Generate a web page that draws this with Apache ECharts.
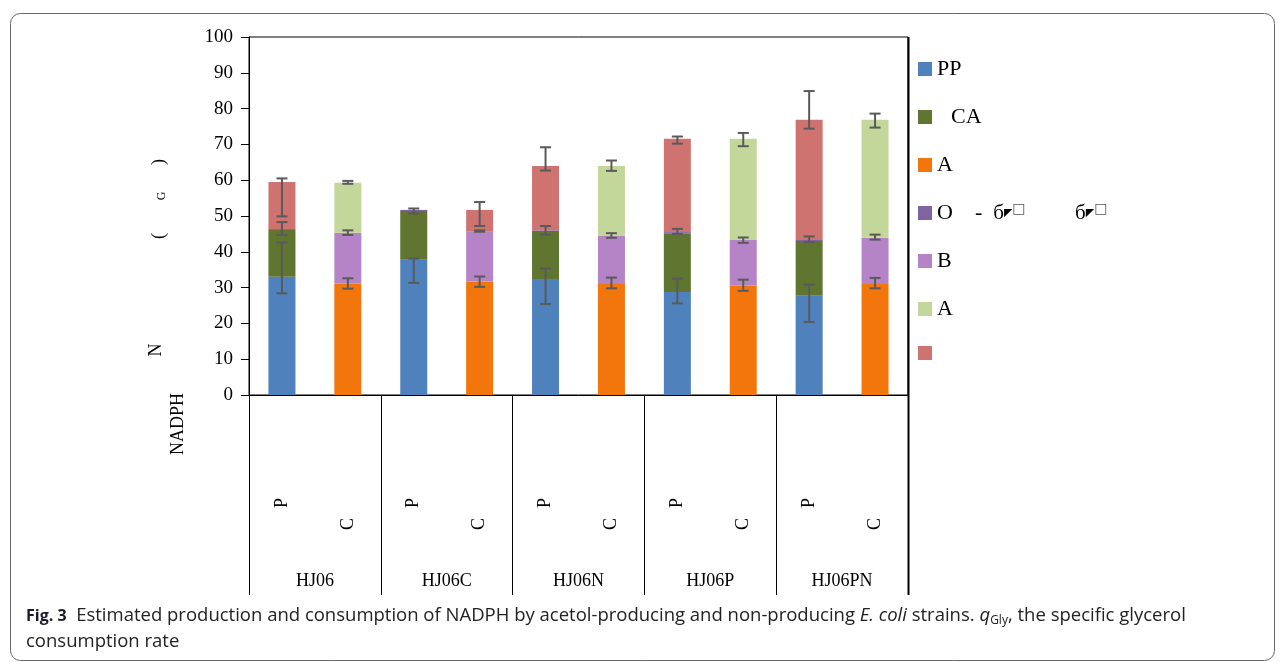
<!DOCTYPE html>
<html>
<head>
<meta charset="utf-8">
<script src="https://cdn.jsdelivr.net/npm/echarts@6/dist/echarts.min.js"></script>
<style>
  html, body { margin: 0; padding: 0; background: #fff; }
  #chart { width: 1282px; height: 662px; }
</style>
</head>
<body>
<div id="chart"></div>
<script>
// Strains and the two bars drawn for each (P = production, C = consumption)
const strains = ['HJ06', 'HJ06C', 'HJ06N', 'HJ06P', 'HJ06PN'];
const barLabels = ['P', 'C', 'P', 'C', 'P', 'C', 'P', 'C', 'P', 'C'];

// Stacked NADPH fluxes, one entry per bar (null = segment absent)
const ppVals  = [33.0, null, 37.8, null, 32.4, null, 28.8, null, 27.7, null];
const caVals  = [13.1, null, 13.6, null, 13.4, null, 16.4, null, 15.3, null];
const aVals   = [null, 31.1, null, 31.7, null, 31.0, null, 30.5, null, 31.0];
const oVals   = [0.3, null, 0.3, null, 0.2, null, 0.3, null, 0.3, null];
const bVals   = [null, 14.2, null, 13.9, null, 13.4, null, 12.8, null, 12.9];
const a2Vals  = [null, 14.0, null, null, null, 19.6, null, 28.3, null, 33.0];
const redVals = [13.1, null, null, 6.1, 18.0, null, 26.1, null, 33.6, null];

// Error bar ranges [low, high] at each stacked level
const errBase = [[28.4, 42.6], [29.7, 32.6], [31.3, 38.1], [30.2, 33.1], [25.4, 35.3],
                 [29.8, 32.8], [25.6, 32.5], [29.1, 32.2], [20.4, 30.8], [29.8, 32.7]];
const errMid  = [[44.7, 48.3], [44.7, 46.0], [50.7, 52.1], [45.6, 46.0], [44.8, 47.2],
                 [43.9, 45.2], [45.0, 46.4], [42.5, 44.0], [42.7, 44.3], [43.4, 44.8]];
const errTop  = [[49.9, 60.5], [59.0, 59.8], null, [47.2, 53.9], [62.7, 69.2],
                 [62.6, 65.5], [70.2, 72.2], [69.5, 73.2], [74.4, 84.9], [74.7, 78.6]];

// Y-axis ticks
const yMin = 0, yMax = 100, yStep = 10;

const serif = 'Liberation Serif';

const seriesDefs = [
  { key: 'pp', label: 'PP',  color: '#4F81BD', data: ppVals },
  { key: 'ca', label: '{ind|CA}', color: '#5F7530', data: caVals },
  { key: 'a1', label: 'A',   color: '#F2760C', data: aVals },
  { key: 'o',  label: '{t|O    -  }{cy|б}{wd|◤}{sq|□}{t|         }{cy|б}{wd|◤}{sq|□}', color: '#8064A2', data: oVals },
  { key: 'b',  label: 'B',   color: '#B484C6', data: bVals },
  { key: 'a2', label: 'A',   color: '#C4D79B', data: a2Vals },
  { key: 'r',  label: '',    color: '#CF7371', data: redVals }
];
const labelByKey = {};
seriesDefs.forEach(d => { labelByKey[d.key] = d.label; });

const errData = [];
[errBase, errMid, errTop].forEach(level => {
  level.forEach((r, i) => { if (r) errData.push([i, r[0], r[1]]); });
});

const chart = echarts.init(document.getElementById('chart'), null, { renderer: 'canvas' });

const series = seriesDefs.map(d => ({
  name: d.key,
  type: 'bar',
  stack: 'nadph',
  barWidth: 27,
  xAxisIndex: 0,
  itemStyle: { color: d.color },
  data: d.data
}));

series.push({
  type: 'custom',
  name: 'err',
  xAxisIndex: 0,
  z: 5,
  encode: { x: 0, y: [1, 2] },
  data: errData,
  renderItem: function (params, api) {
    const lo = api.coord([api.value(0), api.value(1)]);
    const hi = api.coord([api.value(0), api.value(2)]);
    const x = lo[0], cap = 5.5;
    const st = { stroke: '#5a5a5a', lineWidth: 2 };
    return {
      type: 'group',
      children: [
        { type: 'line', shape: { x1: x, y1: lo[1], x2: x, y2: hi[1] }, style: st },
        { type: 'line', shape: { x1: x - cap, y1: lo[1], x2: x + cap, y2: lo[1] }, style: st },
        { type: 'line', shape: { x1: x - cap, y1: hi[1], x2: x + cap, y2: hi[1] }, style: st }
      ]
    };
  }
});

const option = {
  animation: false,
  backgroundColor: '#fff',
  grid: { left: 249, right: 374, top: 37, bottom: 267, show: true, borderColor: '#000', borderWidth: 1 },
  legend: {
    data: seriesDefs.map(d => d.key),
    orient: 'vertical',
    left: 918,
    top: 58,
    padding: 0,
    itemWidth: 14,
    itemHeight: 14,
    itemGap: 26,
    icon: 'rect',
    formatter: name => labelByKey[name],
    textStyle: {
      fontFamily: serif, fontSize: 22, lineHeight: 22, color: '#000',
      rich: {
        ind: { fontFamily: serif, fontSize: 22, lineHeight: 22, color: '#000', padding: [0, 0, 0, 14] },
        t:   { fontFamily: serif, fontSize: 22, lineHeight: 22, color: '#000' },
        cy:  { fontFamily: serif, fontSize: 21, lineHeight: 22, color: '#000', verticalAlign: 'bottom' },
        wd:  { fontFamily: 'DejaVu Sans', fontSize: 11, lineHeight: 14, color: '#000', verticalAlign: 'middle' },
        sq:  { fontFamily: 'DejaVu Sans', fontSize: 14, lineHeight: 14, color: '#555', verticalAlign: 'top' }
      }
    }
  },
  xAxis: [
    {
      type: 'category', data: barLabels, gridIndex: 0, position: 'bottom',
      axisLine: { lineStyle: { color: '#000', width: 1 } },
      axisTick: { show: false },
      axisLabel: { interval: (i) => i % 2 === 0, rotate: 90, margin: 103,
                   fontFamily: serif, fontSize: 18, color: '#000' }
    },
    {
      type: 'category', data: barLabels, gridIndex: 0, position: 'bottom',
      axisLine: { show: false }, axisTick: { show: false },
      axisLabel: { interval: (i) => i % 2 === 1, rotate: 90, margin: 123,
                   fontFamily: serif, fontSize: 18, color: '#000' }
    },
    {
      type: 'category', data: strains, gridIndex: 0, position: 'bottom',
      axisLine: { show: false },
      axisTick: { show: true, length: 200, interval: 0, lineStyle: { color: '#000', width: 1 } },
      axisLabel: { margin: 177, fontFamily: serif, fontSize: 18, color: '#000' }
    }
  ],
  yAxis: {
    type: 'value', min: yMin, max: yMax, interval: yStep,
    splitLine: { show: false },
    axisLine: { show: true, lineStyle: { color: '#000', width: 1 } },
    axisTick: { show: true, length: 8, lineStyle: { color: '#000' } },
    axisLabel: { margin: 16, fontFamily: serif, fontSize: 19, color: '#000' }
  },
  graphic: [
    // figure frame
    { type: 'rect', shape: { x: 10.5, y: 13.5, width: 1264, height: 647, r: 10 },
      style: { fill: 'none', stroke: '#666', lineWidth: 1 }, z: 0, silent: true },
    // heavier right edge of the plot frame
    { type: 'line', shape: { x1: 908.5, y1: 37, x2: 908.5, y2: 595 },
      style: { stroke: '#000', lineWidth: 2 }, silent: true },
    // y-axis title, two rotated lines
    { type: 'text', x: 178, y: 424, rotation: Math.PI / 2,
      style: { text: 'NADPH', fontFamily: serif, fontSize: 18, fill: '#000', align: 'center', verticalAlign: 'middle' } },
    { type: 'text', x: 156, y: 350, rotation: Math.PI / 2,
      style: { text: 'N', fontFamily: serif, fontSize: 18, fill: '#000', align: 'center', verticalAlign: 'middle' } },
    { type: 'text', x: 159, y: 236, rotation: Math.PI / 2,
      style: { text: '(', fontFamily: serif, fontSize: 18, fill: '#000', align: 'center', verticalAlign: 'middle' } },
    { type: 'text', x: 162, y: 196, rotation: Math.PI / 2,
      style: { text: 'G', fontFamily: serif, fontSize: 12, fill: '#000', align: 'center', verticalAlign: 'middle' } },
    { type: 'text', x: 159, y: 162, rotation: Math.PI / 2,
      style: { text: ')', fontFamily: serif, fontSize: 18, fill: '#000', align: 'center', verticalAlign: 'middle' } },
    // caption
    { type: 'text', x: 26, y: 603,
      style: {
        text: '{b|Fig. 3}{n|  Estimated production and consumption of NADPH by acetol-producing and non-producing }{i|E. coli}{n| strains. }{i|q}{sub|Gly}{n|, the specific glycerol}\n{n|consumption rate}',
        fontFamily: 'Open Sans', fontSize: 18.5, fill: '#222', lineHeight: 26,
        rich: {
          b:   { fontFamily: 'Open Sans', fontSize: 16, fontWeight: 'bold', fill: '#1a1a2a', lineHeight: 26 },
          n:   { fontFamily: 'Open Sans', fontSize: 18.5, fill: '#222', lineHeight: 26 },
          i:   { fontFamily: 'Open Sans', fontSize: 18.5, fontStyle: 'italic', fill: '#222', lineHeight: 26 },
          sub: { fontFamily: 'Open Sans', fontSize: 12, fill: '#222', lineHeight: 26, padding: [10, 0, 0, 0] }
        }
      } }
  ],
  series: series
};

chart.setOption(option);
</script>
</body>
</html>
